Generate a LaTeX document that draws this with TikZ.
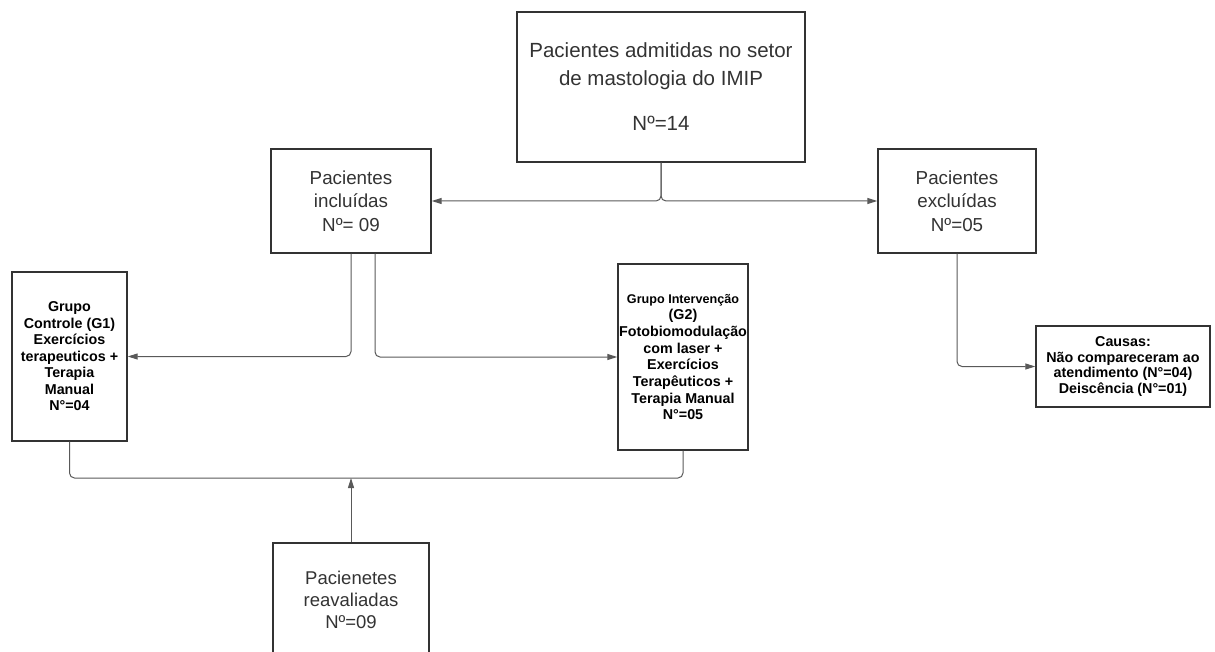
\documentclass[tikz,border=0pt]{standalone}
\usepackage{fontspec}
\setmainfont{Liberation Sans}
\usetikzlibrary{arrows.meta,calc}
\definecolor{boxline}{HTML}{333333}
\definecolor{connline}{HTML}{595959}
\definecolor{txtgray}{HTML}{333333}
\tikzset{
  box/.style={draw=boxline, line width=1.4pt, rectangle, inner sep=0pt, align=center, text=txtgray},
  boldbox/.style={box, text=black},
  conn/.style={draw=connline, line width=1pt, rounded corners=5pt},
  arr/.style={conn, -{Triangle[length=10pt,width=6pt]}},
}
\begin{document}
\begin{tikzpicture}[x=1pt,y=-1pt]
\useasboundingbox (0,0) rectangle (1215,652);
\clip (0,0) rectangle (1215,652);

% boxes
\node[box, minimum width=288pt, minimum height=150pt, font=\fontsize{20.5}{28}\selectfont] (top) at (661,87)
  {Pacientes admitidas no setor\\de mastologia do IMIP\\[17pt]Nº=14};
\node[box, minimum width=160pt, minimum height=104pt, font=\fontsize{18.8}{23.5}\selectfont] (incl) at (351,201)
  {Pacientes\\incluídas\\Nº= 09};
\node[box, minimum width=158pt, minimum height=104pt, font=\fontsize{18.8}{23.5}\selectfont] (excl) at (957,201)
  {Pacientes\\excluídas\\Nº=05};
\node[boldbox, minimum width=115pt, minimum height=169pt, font=\fontsize{14.3}{16.5}\selectfont\bfseries] (g1) at (69.5,356.5)
  {Grupo\\Controle (G1)\\Exercícios\\terapeuticos +\\Terapia\\Manual\\N°=04};
\node[boldbox, minimum width=130pt, minimum height=186pt, font=\fontsize{14.3}{16.7}\selectfont\bfseries] (g2) at (683,357)
  {{\fontsize{12.6}{16.7}\selectfont Grupo Intervenção}\\(G2)\\Fotobiomodulação\\com laser +\\Exercícios\\Terapêuticos +\\Terapia Manual\\N°=05};
\node[boldbox, minimum width=174pt, minimum height=81pt, font=\fontsize{14.3}{15.7}\selectfont\bfseries] (causas) at (1123,366.5)
  {Causas:\\Não compareceram ao\\atendimento (N°=04)\\Deiscência (N°=01)};
\node[box, minimum width=156pt, minimum height=114pt, font=\fontsize{18.5}{22}\selectfont] (reav) at (351,600)
  {Pacienetes\\reavaliadas\\Nº=09};

% connectors
\draw[arr] (top.south) |- (incl.east);
\draw[arr] (top.south) |- (excl.west);
\draw[arr] (incl.south) |- (g1.east);
\draw[arr] ([xshift=24pt]incl.south) |- (g2.west);
\draw[arr] (excl.south) |- (causas.west);
\coordinate (merge) at (351,478);
\draw[conn] (g1.south) |- (merge) -| (g2.south);
\draw[arr] (reav.north) -- (merge);
\end{tikzpicture}
\end{document}
